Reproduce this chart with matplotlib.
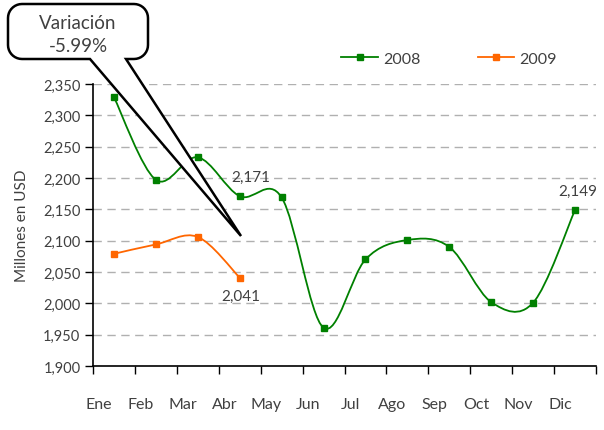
import numpy as np
import matplotlib
matplotlib.use("Agg")
import matplotlib.pyplot as plt
from matplotlib.path import Path
from matplotlib.patches import PathPatch

plt.rcParams['font.family'] = ['Lato', 'DejaVu Sans']

months = ["Ene", "Feb", "Mar", "Abr", "May", "Jun", "Jul", "Ago", "Sep", "Oct", "Nov", "Dic"]
v2008 = [2329, 2197, 2233, 2171, 2169, 1961, 2070, 2101, 2090, 2002, 2001, 2149]
v2009 = [2079, 2094, 2106, 2041]
yticks = [1900, 1950, 2000, 2050, 2100, 2150, 2200, 2250, 2300, 2350]
callout_text = "Variación\n-5.99%"

W, H = 604, 431
fig = plt.figure(figsize=(W / 100, H / 100), dpi=100)
ax = fig.add_axes([93 / W, 1 - 367 / H, (596 - 93) / W, (367 - 85) / H])

GREEN = "#008000"
ORANGE = "#FF6600"
TXT = "#404040"


def smooth_path(xs, ys):
    pts = np.column_stack([xs, ys]).astype(float)
    n = len(pts)
    verts = [pts[0]]
    codes = [Path.MOVETO]
    for i in range(n - 1):
        p0 = pts[i - 1] if i > 0 else pts[i]
        p1 = pts[i]
        p2 = pts[i + 1]
        p3 = pts[i + 2] if i + 2 < n else pts[i + 1]
        c1 = p1 + (p2 - p0) / 6.0
        c2 = p2 - (p3 - p1) / 6.0
        verts += [c1, c2, p2]
        codes += [Path.CURVE4] * 3
    return Path(verts, codes)


x08 = np.arange(len(v2008))
x09 = np.arange(len(v2009))
for xs, ys, col, lab in [(x08, v2008, GREEN, "2008"), (x09, v2009, ORANGE, "2009")]:
    ax.add_patch(PathPatch(smooth_path(xs, ys), fill=False, edgecolor=col, lw=1.3, zorder=3))
    ax.plot(xs, ys, linestyle="none", marker="s", ms=5, color=col, zorder=4)
    ax.plot([], [], color=col, marker="s", ms=5, lw=1.3, label=lab)

ax.set_xlim(-0.5, 11.5)
ax.set_ylim(1900, 2350)
ax.set_yticks(yticks)
ax.set_yticklabels([f"{v:,}" for v in yticks], fontsize=10.5, color=TXT)
ax.yaxis.grid(True, linestyle=(0, (6, 4)), color="#b0b0b0", lw=1)
ax.set_axisbelow(True)
ax.tick_params(axis="y", length=6, width=1, direction="out", color="black", pad=3)

ax.set_xticks(np.arange(-0.5, 12, 1))
ax.set_xticklabels([])
ax.tick_params(axis="x", length=6, width=1, direction="out", color="black")
for i, m in enumerate(months):
    ax.text(i - 0.36, -0.135, m, transform=ax.get_xaxis_transform(), ha="center",
            va="center", fontsize=11.5, color=TXT)

for s in ["top", "right"]:
    ax.spines[s].set_visible(False)
for s in ["left", "bottom"]:
    ax.spines[s].set_color("black")
    ax.spines[s].set_linewidth(1.2)

ax.set_ylabel("Millones en USD", fontsize=11, color=TXT, labelpad=10)

ax.annotate(f"{v2008[3]:,}", (3, v2008[3]), xytext=(8, 14), textcoords="offset points",
            ha="center", va="center", fontsize=11, color=TXT)
ax.annotate(f"{v2009[3]:,}", (3, v2009[3]), xytext=(1, -13), textcoords="offset points",
            ha="center", va="center", fontsize=11, color=TXT)
ax.annotate(f"{v2008[11]:,}", (11, v2008[11]), xytext=(2, 14), textcoords="offset points",
            ha="center", va="center", fontsize=11, color=TXT)

ax.legend(loc="center", bbox_to_anchor=(449 / W, 1 - 60 / H), bbox_transform=fig.transFigure,
          ncol=2, frameon=False, fontsize=11.5, handlelength=2.3, handletextpad=0.3,
          columnspacing=3.6, labelcolor=TXT)

# callout in figure pixel coords
def P(x, y):
    return (x / W, 1 - y / H)

L, R, T, B, r = 8, 148, 5, 60, 14
tip = (241, 237)
wl, wr = 90, 126
pts = []
def arc(cx, cy, a0, a1):
    for a in np.linspace(np.radians(a0), np.radians(a1), 10):
        pts.append((cx + r * np.cos(a), cy - r * np.sin(a)))
arc(L + r, T + r, 180, 90)
arc(R - r, T + r, 90, 0)
arc(R - r, B - r, 0, -90)
pts.append((wr, B))
pts.append(tip)
pts.append((wl, B))
arc(L + r, B - r, 270, 180)
pts.append(pts[0])
verts = [P(*p) for p in pts]
codes = [Path.MOVETO] + [Path.LINETO] * (len(verts) - 2) + [Path.CLOSEPOLY]
fig.patches.append(PathPatch(Path(verts, codes), facecolor="white", edgecolor="black",
                             lw=1.8, transform=fig.transFigure, zorder=10))
fig.text(*P(78, 35), callout_text, ha="center", va="center", fontsize=13.5, color=TXT,
         linespacing=1.45, zorder=11)

fig.savefig("out.png", dpi=100)
